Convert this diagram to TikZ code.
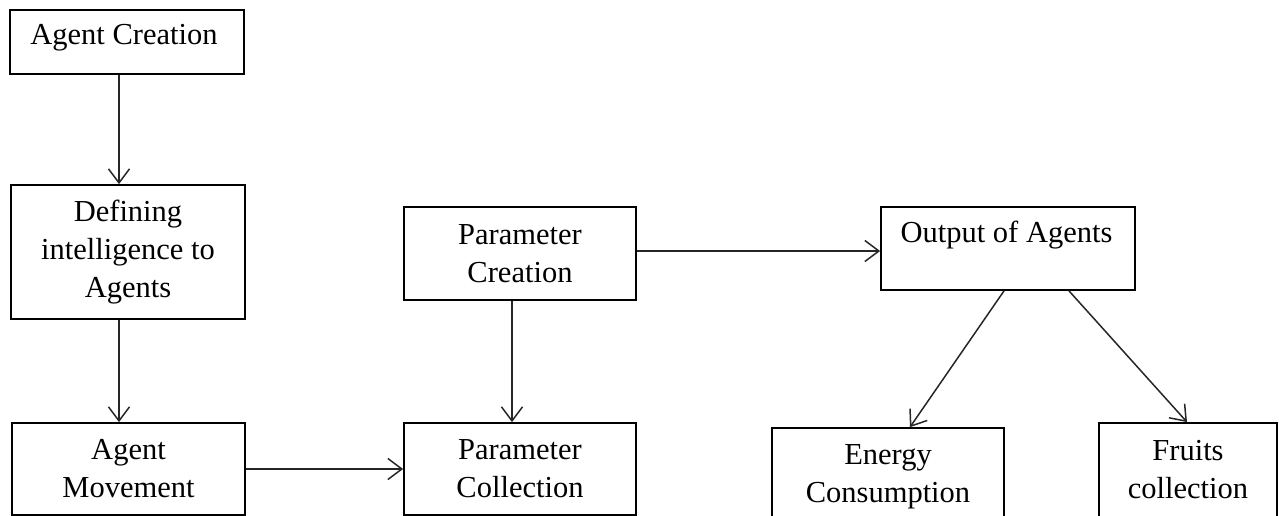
\documentclass[tikz,border=0pt]{standalone}
\usepackage{fontspec}
\setmainfont{Liberation Serif}
\usetikzlibrary{arrows.meta}
\begin{document}
\begin{tikzpicture}[x=1pt,y=1pt,
  box/.style={draw=black,line width=1.8pt,rectangle,inner sep=0pt,align=center,
    font=\fontsize{30.5}{38}\selectfont},
  lbl/.style={inner sep=0pt,align=center,font=\fontsize{30.5}{38}\selectfont},
  arr/.style={draw=black!85,line width=1.5pt,-{Straight Barb[length=14pt,width=21pt,line width=1.5pt]}}]
\clip (0,0) rectangle (1279,516);
% boxes
\node[box,minimum width=234,minimum height=64] (ac) at (127,474) {};
\node[lbl] (act) at (124,478) {Agent Creation};
\node[box,minimum width=234,minimum height=134] (def) at (128,264) {Defining\\intelligence to\\Agents};
\node[box,minimum width=233,minimum height=92] (mov) at (128.5,47) {Agent\\Movement};
\node[box,minimum width=232,minimum height=93] (pc) at (520,262.5) {Parameter\\Creation};
\node[box,minimum width=232,minimum height=92] (pcol) at (520,47) {Parameter\\Collection};
\node[box,minimum width=254,minimum height=83] (out) at (1008,267.5) {};
\node[lbl] (outt) at (1006.5,281) {Output of Agents};
\node[box,minimum width=232,minimum height=96] (en) at (888,40) {};
\node[lbl] (ent) at (888,39) {Energy\\Consumption};
\node[box,minimum width=178,minimum height=100] (fr) at (1188,43) {};
\node[lbl] (frt) at (1188,46) {Fruits\\collection};
% helper coordinates
\coordinate (x119) at (119,0);
\coordinate (x512) at (512,0);
\coordinate (y251) at (0,265);
\coordinate (x1004) at (1004,0);
\coordinate (x910) at (910,0);
\coordinate (x1069) at (1069,0);
\coordinate (x1187) at (1187,0);
% connectors
\draw[arr] (ac.south -| x119) -- (def.north -| x119);
\draw[arr] (def.south -| x119) -- (mov.north -| x119);
\draw[arr] (mov.east) -- (pcol.west);
\draw[arr] (pc.south -| x512) -- (pcol.north -| x512);
\draw[arr] (pc.east |- y251) -- (out.west |- y251);
\draw[arr] (out.south -| x1004) -- (en.north -| x910);
\draw[arr] (out.south -| x1069) -- (fr.north -| x1187);
\end{tikzpicture}
\end{document}
